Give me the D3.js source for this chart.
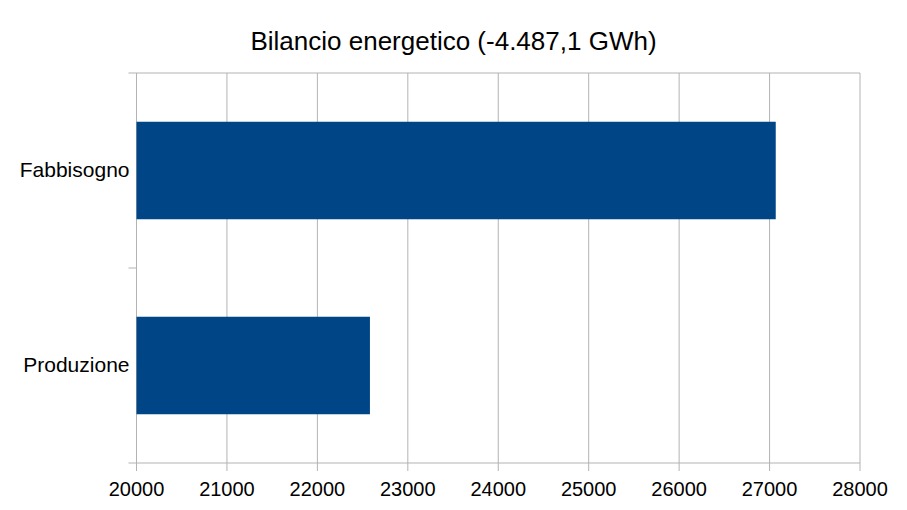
<!DOCTYPE html>
<html>
<head>
<meta charset="utf-8">
<script src="https://cdn.jsdelivr.net/npm/d3@7"></script>
<style>
  body { margin: 0; background: #fff; }
  text { font-family: 'Liberation Sans', Arial, sans-serif; fill: #000; }
</style>
</head>
<body>
<div id="svg-container"></div>
<script>
var CONFIGSVG = { width: 907, height: 510 };
var margin = { top: 73, right: 47, bottom: 47, left: 136.5 };

// data
var categories = ['Fabbisogno', 'Produzione'];
var values = [27068.3, 22581.2];
var xTicks = [20000, 21000, 22000, 23000, 24000, 25000, 26000, 27000, 28000];
var title = 'Bilancio energetico (-4.487,1 GWh)';

var svg = d3
	.select('#svg-container')
	.append('svg')
	.attr('width', CONFIGSVG.width)
	.attr('height', CONFIGSVG.height);

var x0 = margin.left;
var x1 = CONFIGSVG.width - margin.right;
var y0 = margin.top;
var y1 = CONFIGSVG.height - margin.bottom;

var x = d3.scaleLinear().domain([20000, 28000]).range([x0, x1]);
var y = d3.scaleBand().domain(categories).range([y0, y1]).paddingInner(0.5).paddingOuter(0.25);

var grid = '#b3b3b3';

// vertical gridlines, running into the tick marks below the axis
svg
	.append('g')
	.selectAll('line')
	.data(xTicks)
	.enter()
	.append('line')
	.attr('x1', (d) => x(d))
	.attr('x2', (d) => x(d))
	.attr('y1', y0)
	.attr('y2', y1 + 8)
	.attr('stroke', grid)
	.attr('stroke-width', 1);

// horizontal frame lines and category separators
var sep = [y0, (y0 + y1) / 2, y1];
svg
	.append('g')
	.selectAll('line')
	.data(sep)
	.enter()
	.append('line')
	.attr('x1', x0 - 8)
	.attr('x2', (d, i) => (i === 1 ? x0 : x1))
	.attr('y1', (d) => d)
	.attr('y2', (d) => d)
	.attr('stroke', grid)
	.attr('stroke-width', 1);

// bars
svg
	.append('g')
	.selectAll('rect')
	.data(values)
	.enter()
	.append('rect')
	.attr('x', x(20000))
	.attr('y', (d, i) => y(categories[i]))
	.attr('width', (d) => x(d) - x(20000))
	.attr('height', y.bandwidth())
	.attr('fill', '#004586');

// x tick labels
svg
	.append('g')
	.selectAll('text')
	.data(xTicks)
	.enter()
	.append('text')
	.attr('x', (d) => x(d))
	.attr('y', y1 + 33)
	.attr('text-anchor', 'middle')
	.style('font-size', '20px')
	.text((d) => d);

// category labels
svg
	.append('g')
	.selectAll('text')
	.data(categories)
	.enter()
	.append('text')
	.attr('x', x0 - 7)
	.attr('y', (d) => y(d) + y.bandwidth() / 2)
	.attr('dy', '0.33em')
	.attr('text-anchor', 'end')
	.style('font-size', '21px')
	.text((d) => d);

// title
svg
	.append('text')
	.attr('x', CONFIGSVG.width / 2)
	.attr('y', 50)
	.attr('text-anchor', 'middle')
	.style('font-size', '26px')
	.text(title);
</script>
</body>
</html>
